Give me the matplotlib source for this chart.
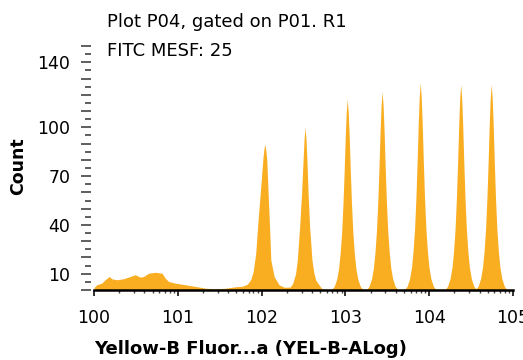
import numpy as np
import matplotlib
matplotlib.use("Agg")
import matplotlib.pyplot as plt
from matplotlib.ticker import FixedLocator, LogLocator, NullFormatter

# Histogram trace: position in decades (log10 of YEL-B-A) and event count
log_intensity = [
    # debris / low region
    0.000, 0.032, 0.092, 0.132, 0.183, 0.212, 0.272, 0.351, 0.432, 0.492,
    0.552, 0.591, 0.651, 0.731, 0.812, 0.851, 0.891, 0.971, 1.031, 1.091,
    1.211, 1.331, 1.451, 1.571, 1.691, 1.771, 1.831,
    # bead peak 1
    1.871, 1.900, 1.930, 1.958, 1.990, 2.014, 2.026, 2.038, 2.050, 2.062,
    2.078, 2.095, 2.110, 2.150, 2.210, 2.270, 2.340,
    # bead peak 2
    2.371, 2.405, 2.426, 2.454, 2.477, 2.495, 2.507, 2.518, 2.530, 2.541,
    2.555, 2.573, 2.601, 2.624, 2.646, 2.715, 2.780,
    # bead peak 3
    2.842, 2.867, 2.895, 2.918, 2.937, 2.955, 2.971, 2.985, 2.998, 3.010,
    3.022, 3.034, 3.046, 3.059, 3.073, 3.089, 3.107, 3.126, 3.149, 3.177,
    3.202, 3.230,
    # bead peak 4
    3.258, 3.283, 3.311, 3.334, 3.353, 3.371, 3.387, 3.401, 3.414, 3.426,
    3.438, 3.450, 3.462, 3.475, 3.489, 3.505, 3.523, 3.542, 3.565, 3.593,
    3.618, 3.665,
    # bead peak 5
    3.713, 3.738, 3.766, 3.789, 3.808, 3.826, 3.842, 3.856, 3.869, 3.881,
    3.893, 3.905, 3.917, 3.930, 3.944, 3.960, 3.978, 3.997, 4.020, 4.048,
    4.073, 4.135,
    # bead peak 6
    4.196, 4.221, 4.249, 4.272, 4.291, 4.309, 4.325, 4.339, 4.352, 4.364,
    4.376, 4.388, 4.400, 4.413, 4.427, 4.443, 4.461, 4.480, 4.503, 4.531,
    4.558,
    # bead peak 7
    4.585, 4.613, 4.636, 4.655, 4.673, 4.689, 4.703, 4.716, 4.728,
    4.740, 4.752, 4.764, 4.777, 4.791, 4.807, 4.825, 4.844, 4.867, 4.895,
    4.920, 5.000,
]
counts = [
    1.5, 3.2, 4.2, 6.3, 8.3, 6.9, 6.3, 6.9, 8.3, 9.4,
    7.9, 8.3, 10.3, 10.9, 10.3, 7.2, 5.2, 4.2, 3.7, 3.2,
    2.2, 1.1, 0.7, 1.1, 2.0, 2.3, 3.6,
    6.5, 11.5, 22.6, 43.0, 63.5, 79.9, 86.0, 89.7, 86.0, 79.9,
    59.4, 38.9, 18.4, 8.2, 3.1, 1.7, 1.8,
    4.1, 10.0, 18.4, 38.9, 59.4, 79.9, 93.0, 100.0, 93.0, 79.9,
    59.4, 38.9, 18.4, 10.5, 6.1, 1.0, 0.4,
    0.6, 2.3, 6.5, 12.9, 22.3, 35.2, 52.8, 72.8, 93.9, 109.2,
    117.4, 109.2, 93.9, 72.8, 52.8, 35.2, 22.3, 12.9, 6.5, 2.3,
    0.6, 0.4,
    0.6, 2.4, 6.7, 13.4, 23.2, 36.6, 54.9, 75.6, 97.6, 113.5,
    122.0, 113.5, 97.6, 75.6, 54.9, 36.6, 23.2, 13.4, 6.7, 2.4,
    0.6, 0.4,
    0.6, 2.5, 7.0, 14.0, 24.2, 38.2, 57.3, 79.0, 101.9, 118.5,
    127.4, 118.5, 101.9, 79.0, 57.3, 38.2, 24.2, 14.0, 7.0, 2.5,
    0.6, 0.4,
    0.6, 2.5, 7.0, 13.9, 24.0, 37.9, 56.9, 78.4, 101.1, 117.6,
    126.4, 117.6, 101.1, 78.4, 56.9, 37.9, 24.0, 13.9, 7.0, 2.5,
    0.6,
    2.5, 7.0, 13.9, 24.0, 37.9, 56.9, 78.4, 101.1, 117.6,
    126.4, 117.6, 101.1, 78.4, 56.9, 37.9, 24.0, 13.9, 7.0, 2.5,
    0.6, 0.3,
]

decade_ticks = [1, 10, 100, 1000, 10000, 100000]
decade_labels = ["100", "101", "102", "103", "104", "105"]
count_ticks = list(range(0, 151, 10))
count_labeled = [10, 40, 70, 100, 140]

title_lines = ["Plot P04, gated on P01. R1", "FITC MESF: 25"]
x_title = "Yellow-B Fluor...a (YEL-B-ALog)"
y_title = "Count"

W, H = 523, 360
plt.rcParams["font.family"] = ["DejaVu Sans"]
fig = plt.figure(figsize=(W / 100, H / 100), dpi=100)
ax = fig.add_axes([94 / W, 1 - 290 / H, 419 / W, 244 / H])

fill_color = "#F9AE22"
x = 10 ** np.array(log_intensity)
ax.fill_between(x, 0, counts, color=fill_color, linewidth=0)

ax.set_xscale("log")
ax.set_xlim(1, 1e5)
ax.set_ylim(0, 150)

for side in ("top", "right", "left"):
    ax.spines[side].set_visible(False)
ax.spines["left"].set_position(("outward", 2))
ax.spines["bottom"].set_linewidth(1.8)
ax.spines["bottom"].set_color("black")

ax.xaxis.set_major_locator(FixedLocator(decade_ticks))
ax.set_xticklabels(decade_labels)
ax.xaxis.set_minor_locator(LogLocator(base=10, subs=np.arange(2, 10)))
ax.xaxis.set_minor_formatter(NullFormatter())
ax.tick_params(axis="x", which="major", length=4.5, width=1.3, color="#222222",
               labelsize=12.5, pad=9)
ax.tick_params(axis="x", which="minor", length=2.5, width=1.0, color="#444444")

ax.yaxis.set_major_locator(FixedLocator(count_ticks))
ax.set_yticklabels([str(v) if v in count_labeled else "" for v in count_ticks])
ax.yaxis.set_minor_locator(FixedLocator([v + 5 for v in count_ticks[:-1]]))
ax.tick_params(axis="y", which="major", length=7.5, width=1.1, color="#333333",
               labelsize=12.5, pad=7.5)
ax.tick_params(axis="y", which="minor", length=4.5, width=1.1, color="#333333")

fig.text(107 / W, 1 - 27 / H, title_lines[0], fontsize=13, va="baseline", ha="left")
fig.text(107 / W, 1 - 56 / H, title_lines[1], fontsize=13, va="baseline", ha="left")
fig.text(251 / W, 1 - 354 / H, x_title, fontsize=13, fontweight="bold",
         va="baseline", ha="center")
fig.text(18 / W, 1 - 166 / H, y_title, fontsize=12.5, fontweight="bold",
         va="center", ha="center", rotation=90)

fig.savefig("out.png", dpi=100)
